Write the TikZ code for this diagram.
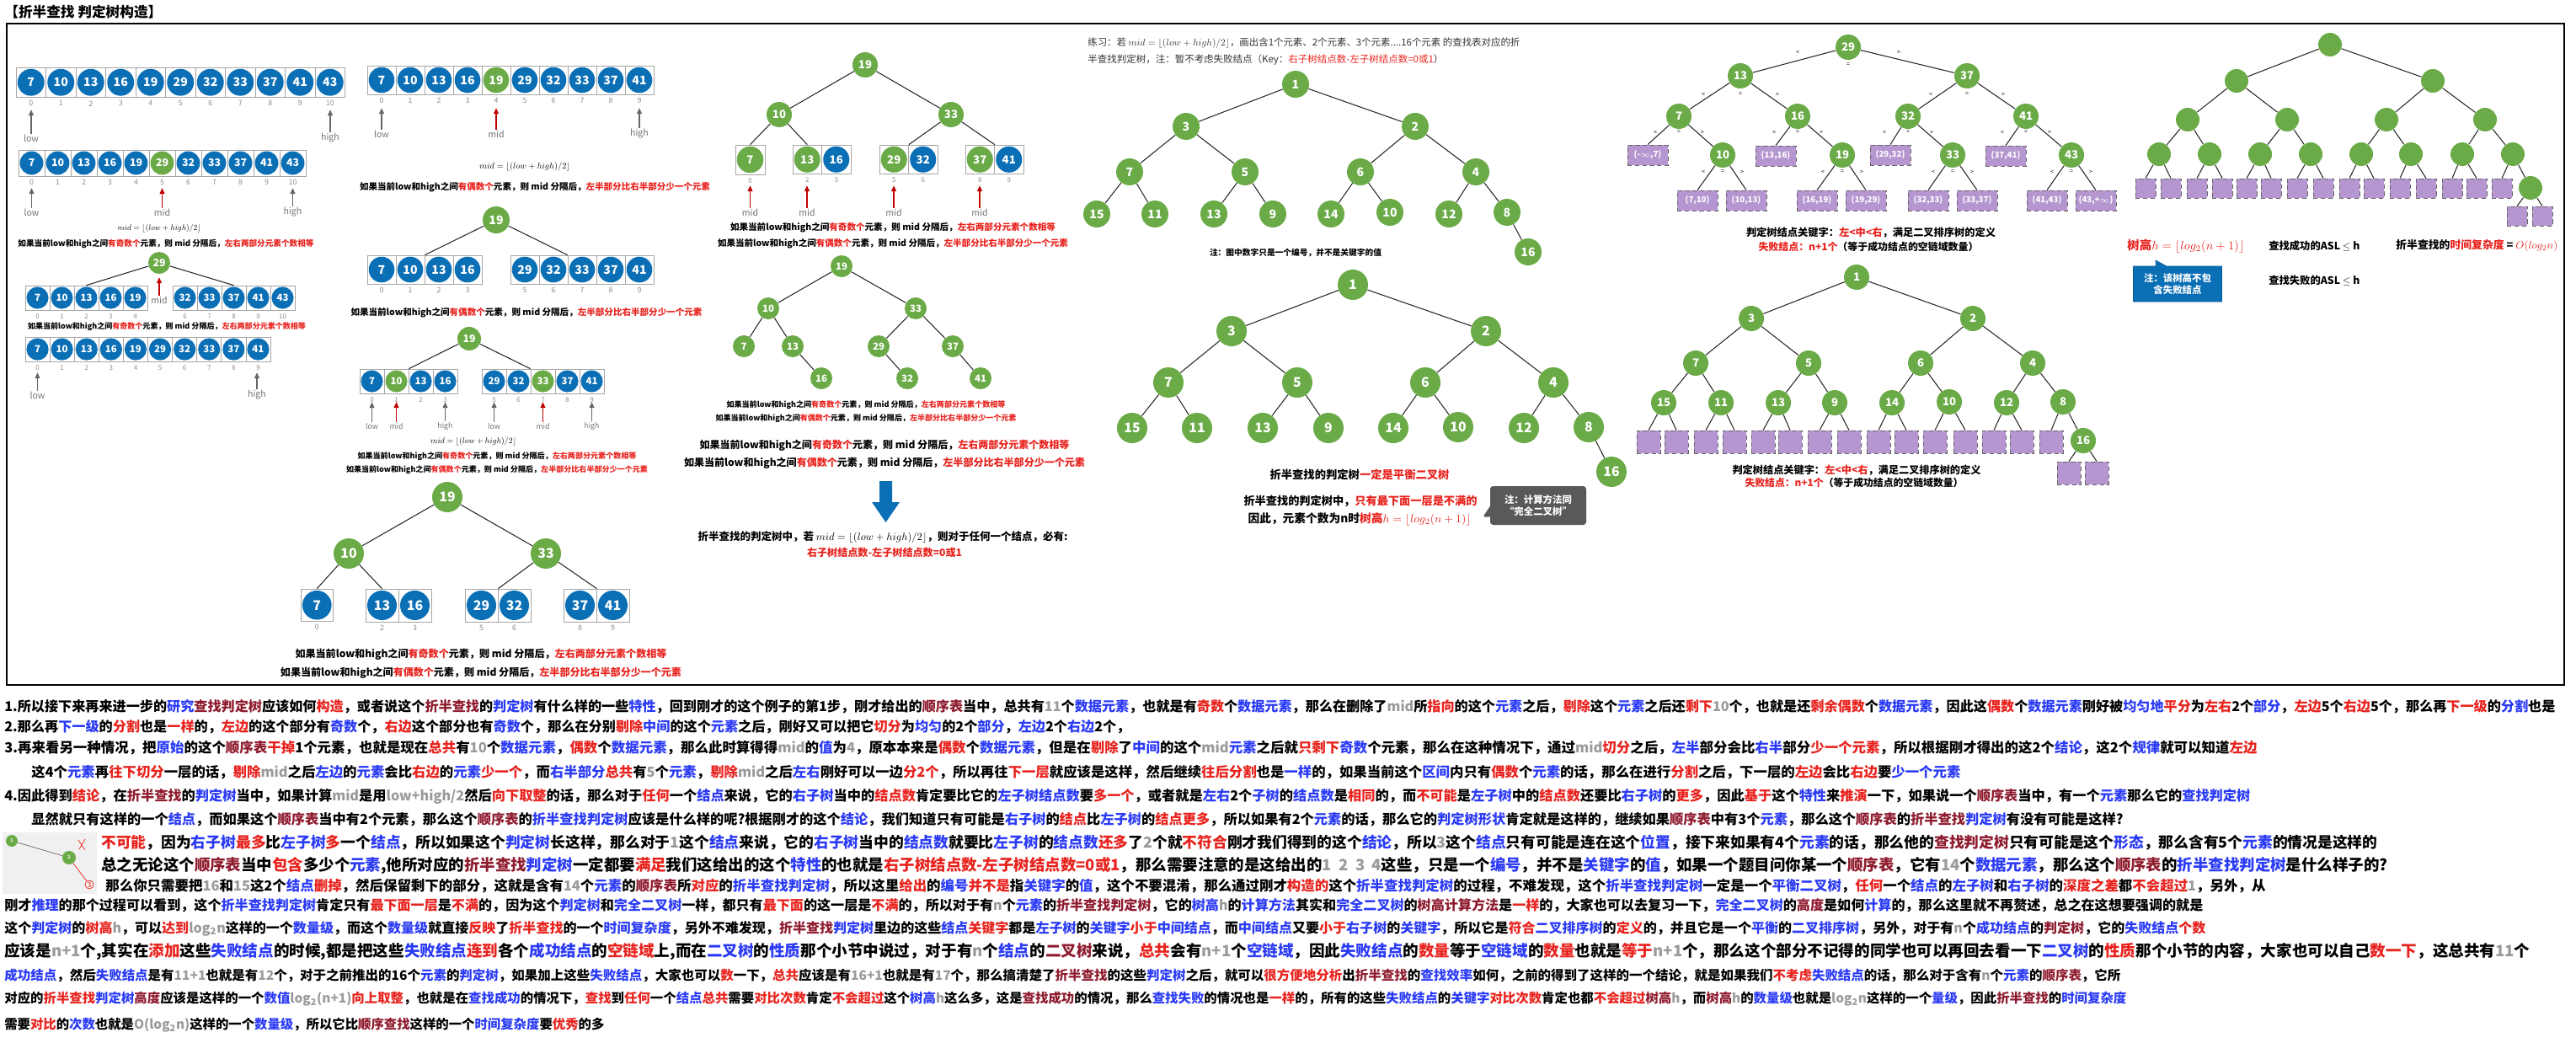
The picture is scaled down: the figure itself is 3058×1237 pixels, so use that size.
\documentclass[tikz,border=0pt]{standalone}
\usepackage{amsmath}
\usepackage{fontspec}
\setmainfont{Noto Sans CJK SC}
\usetikzlibrary{arrows.meta, positioning, calc, shapes.callouts}

\newlength\pxu
\setlength\pxu{0.2mm}
\definecolor{nblue}{HTML}{0B6FB6}
\definecolor{ngreen}{HTML}{6AAB47}
\definecolor{npurple}{HTML}{B596D0}
\definecolor{tred}{HTML}{E8231E}
\definecolor{tblue}{HTML}{2B3BF5}
\definecolor{tdark}{HTML}{8E1B2E}
\definecolor{tgray}{HTML}{9A9A9A}
\definecolor{mred}{HTML}{C00000}

\newcommand\hb[1]{\textcolor{tblue}{#1}}
\newcommand\hr[1]{\textcolor{tred}{#1}}
\newcommand\hd[1]{\textcolor{tdark}{#1}}
\newcommand\hg[1]{\textcolor{tgray}{#1}}
\newcommand\fitw[2]{\resizebox{#1\pxu}{!}{#2}}
\newcommand\midf{$mid=\lfloor(low+high)/2\rfloor$}
\newcommand\oddtxt{\bfseries 如果当前low和high之间\hr{有奇数个}元素，则 mid 分隔后，\hr{左右两部分元素个数相等}}
\newcommand\eventxt{\bfseries 如果当前low和high之间\hr{有偶数个}元素，则 mid 分隔后，\hr{左半部分比右半部分少一个元素}}

\tikzset{
  cell/.style={draw=black!35, fill=white, inner sep=0pt, line width=0.4pt},
  dot/.style={circle, inner sep=0pt, text=white, font=\bfseries\fontsize{7}{7}\selectfont},
  gn/.style={circle, fill=ngreen, text=white, inner sep=0pt, font=\bfseries\fontsize{7}{7}\selectfont},
  fail/.style={draw=black!60, densely dashed, fill=npurple, text=white, inner sep=0pt, font=\bfseries\fontsize{5.5}{6}\selectfont},
  idx/.style={text=black!45, inner sep=0pt, font=\fontsize{5}{5}\selectfont},
  plab/.style={text=black!55, inner sep=0.5pt, font=\fontsize{6}{6}\selectfont},
  ptr/.style={-{Triangle[length=4pt,width=3.2pt]}, line width=1.1pt, black!60},
  mptr/.style={ptr, mred},
  cmp/.style={inner sep=0pt, font=\fontsize{4}{4}\selectfont},
  edge/.style={line width=0.6pt, black!85},
  tline/.style={anchor=west, inner sep=0pt},
}

% prefix, left x, top y, cell size, list value/colour/index
\newcommand\cellrow[5]{%
  \foreach \val/\col/\ix [count=\k from 0] in {#5}{%
    \node[cell, minimum size=#4*\pxu] (#1\k) at ({#2+#4*(\k+.5)},{#3+#4/2}) {};
    \node[dot, fill=\col, minimum size=#4*0.9*\pxu] at (#1\k) {\val};
    \node[idx] at ($(#1\k.south)+(0,7)$) {\ix};
  }}
% style, name, x, tip y, label y, text
\newcommand\pointer[6]{%
  \node[plab] (#2) at (#3,#5) {#6};
  \coordinate (#2t) at (#3,#4);
  \draw[#1] (#2) -- (#2t);}
\newcommand\cmpl[3]{%
  \node[cmp] at ($(#1)+(-#2,#3)$) {<};
  \node[cmp] at ($(#1)+(0,#3)$) {=};
  \node[cmp] at ($(#1)+(#2,#3)$) {>};}
\newcommand\numedges[1]{%
  \foreach \a/\b in {1/3,1/2,3/7,3/5,2/6,2/4,7/15,7/11,5/13,5/9,6/14,6/10,4/12,4/8,8/16}
    \draw[edge] (#1\a) -- (#1\b);}

\begin{document}
\begin{tikzpicture}[x=0.2mm, y=-0.2mm]
\useasboundingbox (0,0) rectangle (3058,1237);

\node[tline] (title) at (5,14) {\fitw{187}{\bfseries 【折半查找 判定树构造】}};
\draw[line width=1.1pt] (8,28) rectangle (3044,813);

% ---- first split, odd count
\begin{scope}[dot/.append style={font=\bfseries\fontsize{8}{8}\selectfont}]
\cellrow{a}{19}{80}{35.5}{7/nblue/0,10/nblue/1,13/nblue/2,16/nblue/3,19/nblue/4,29/nblue/5,32/nblue/6,33/nblue/7,37/nblue/8,41/nblue/9,43/nblue/10}
\end{scope}
\pointer{ptr}{alo}{37}{130}{164}{low}
\pointer{ptr}{ahi}{392}{130}{164}{high}

\cellrow{b}{22}{178}{31}{7/nblue/0,10/nblue/1,13/nblue/2,16/nblue/3,19/nblue/4,29/ngreen/5,32/nblue/6,33/nblue/7,37/nblue/8,41/nblue/9,43/nblue/10}
\pointer{ptr}{blo}{37.5}{223}{252}{low}
\pointer{mptr}{bmid}{192.5}{223}{252}{mid}
\pointer{ptr}{bhi}{347.5}{223}{252}{high}
\node (fb) at (189,271) {\fitw{99}{\midf}};
\node (tb) at (197,289) {\fitw{351}{\oddtxt}};

\node[gn, minimum size=26*\pxu] (c29) at (189,312) {29};
\begin{scope}[dot/.append style={font=\bfseries\fontsize{6.5}{7}\selectfont}, idx/.append style={font=\fontsize{4.5}{5}\selectfont}]
\cellrow{cl}{30}{339}{29}{7/nblue/0,10/nblue/1,13/nblue/2,16/nblue/3,19/nblue/4}
\cellrow{cr}{205}{339}{29}{32/nblue/6,33/nblue/7,37/nblue/8,41/nblue/9,43/nblue/10}
\end{scope}
\draw[edge] (c29) -- (cl2.north);
\draw[edge] (c29) -- (cr2.north);
\pointer{mptr}{cmid}{189}{329}{356}{mid}
\node (tc) at (198,388) {\fitw{330}{\oddtxt}};

\begin{scope}[dot/.append style={font=\bfseries\fontsize{6.5}{7}\selectfont}, idx/.append style={font=\fontsize{4.5}{5}\selectfont}]
\cellrow{d}{30}{400}{29.1}{7/nblue/0,10/nblue/1,13/nblue/2,16/nblue/3,19/nblue/4,29/nblue/5,32/nblue/6,33/nblue/7,37/nblue/8,41/nblue/9}
\end{scope}
\pointer{ptr}{dlo}{44.5}{442}{469}{low}
\pointer{ptr}{dhi}{305}{442}{469}{high}

% ---- even count
\begin{scope}[dot/.append style={font=\bfseries\fontsize{8}{8}\selectfont}]
\cellrow{e}{436}{78}{34}{7/nblue/0,10/nblue/1,13/nblue/2,16/nblue/3,19/ngreen/4,29/nblue/5,32/nblue/6,33/nblue/7,37/nblue/8,41/nblue/9}
\end{scope}
\pointer{ptr}{elo}{453}{128}{159}{low}
\pointer{mptr}{emid}{589}{128}{159}{mid}
\pointer{ptr}{ehi}{759}{128}{159}{high}
\node (fe) at (623,198) {\fitw{108}{\midf}};
\node (te) at (635,222) {\fitw{416}{\eventxt}};

\node[gn, minimum size=32*\pxu, font=\bfseries\fontsize{8}{8}\selectfont] (f19) at (589,261) {19};
\begin{scope}[dot/.append style={font=\bfseries\fontsize{8}{8}\selectfont}]
\cellrow{fl}{436}{303}{34}{7/nblue/0,10/nblue/1,13/nblue/2,16/nblue/3}
\cellrow{fr}{606}{303}{34}{29/nblue/5,32/nblue/6,33/nblue/7,37/nblue/8,41/nblue/9}
\end{scope}
\draw[edge] (f19) -- (fl1.north east);
\draw[edge] (f19) -- (fr2.north west);
\node (tf) at (625,371) {\fitw{417}{\eventxt}};

\node[gn, minimum size=28*\pxu] (h19) at (557,402) {19};
\begin{scope}[dot/.append style={font=\bfseries\fontsize{6.5}{7}\selectfont}, idx/.append style={font=\fontsize{4.5}{5}\selectfont}, plab/.append style={font=\fontsize{5}{5}\selectfont}]
\cellrow{hl}{427}{438}{29}{7/nblue/0,10/ngreen/1,13/nblue/2,16/nblue/3}
\cellrow{hr}{572}{438}{29}{29/nblue/5,32/nblue/6,33/ngreen/7,37/nblue/8,41/nblue/9}
\pointer{ptr}{hlo}{441.5}{477}{506}{low}
\pointer{mptr}{hmid}{470.5}{477}{506}{mid}
\pointer{ptr}{hhi}{528.5}{477}{506}{high}
\pointer{ptr}{hlo2}{586.5}{477}{506}{low}
\pointer{mptr}{hmid2}{644.5}{477}{506}{mid}
\pointer{ptr}{hhi2}{702.5}{477}{506}{high}
\end{scope}
\draw[edge] (h19) -- (hl1.north east);
\draw[edge] (h19) -- (hr2.north west);
\node (fh) at (562,524) {\fitw{102}{\midf}};
\node (th1) at (590,542) {\fitw{331}{\oddtxt}};
\node (th2) at (590,558) {\fitw{358}{\eventxt}};

% ---- tree with leaf boxes
\begin{scope}[gn/.append style={minimum size=36*\pxu, font=\bfseries\fontsize{9}{9}\selectfont}]
\node[gn] (k19) at (531,590) {19};
\node[gn] (k10) at (414,657) {10};
\node[gn] (k33) at (648,657) {33};
\end{scope}
\begin{scope}[dot/.append style={font=\bfseries\fontsize{9}{9}\selectfont}]
\cellrow{ka}{357}{699}{38.5}{7/nblue/0}
\cellrow{kb}{434}{699}{39}{13/nblue/2,16/nblue/3}
\cellrow{kc}{552}{699}{39}{29/nblue/5,32/nblue/6}
\cellrow{kd}{669}{699}{39}{37/nblue/8,41/nblue/9}
\end{scope}
\foreach \a/\b in {k19/k10,k19/k33,k10/ka0.north,k10/kb0.north,k33/kc0.north east,k33/kd0.north east}
  \draw[edge] (\a) -- (\b);
\node (tk1) at (571,777) {\fitw{441}{\oddtxt}};
\node (tk2) at (571,799) {\fitw{476}{\eventxt}};

% ---- middle column
\begin{scope}[gn/.append style={minimum size=30*\pxu, font=\bfseries\fontsize{7.5}{8}\selectfont}]
\node[gn] (m19) at (1027,77) {19};
\node[gn] (m10) at (925,136) {10};
\node[gn] (m33) at (1129,136) {33};
\end{scope}
\begin{scope}[dot/.append style={font=\bfseries\fontsize{7.5}{8}\selectfont}, idx/.append style={font=\fontsize{4.5}{5}\selectfont}]
\cellrow{ma}{873}{172}{35}{7/ngreen/0}
\cellrow{mb}{941}{172}{34.5}{13/ngreen/2,16/nblue/3}
\cellrow{mc}{1044}{172}{34.5}{29/ngreen/5,32/nblue/6}
\cellrow{md}{1146}{172}{34.5}{37/ngreen/8,41/nblue/9}
\end{scope}
\foreach \a/\b in {m19/m10,m19/m33,m10/ma0.north,m10/mb0.north,m33/mc0.north east,m33/md0.north east}
  \draw[edge] (\a) -- (\b);
\pointer{mptr}{mm1}{890.5}{220}{252}{mid}
\pointer{mptr}{mm2}{958}{220}{252}{mid}
\pointer{mptr}{mm3}{1061}{220}{252}{mid}
\pointer{mptr}{mm4}{1163}{220}{252}{mid}
\node (tm1) at (1060,270) {\fitw{386}{\oddtxt}};
\node (tm2) at (1060,289) {\fitw{416}{\eventxt}};

\begin{scope}[gn/.append style={minimum size=26*\pxu, font=\bfseries\fontsize{6.5}{7}\selectfont}]
\foreach \t/\x/\y in {19/999/316,10/912/366,33/1087/366,7/883/411,13/941/411,29/1043/411,37/1131/411,16/975/449,32/1077/449,41/1164/449}
  \node[gn] (n\t) at (\x,\y) {\t};
\end{scope}
\foreach \a/\b in {19/10,19/33,10/7,10/13,13/16,33/29,33/37,29/32,37/41}
  \draw[edge] (n\a) -- (n\b);
\node (tn1) at (1028,481) {\fitw{331}{\oddtxt}};
\node (tn2) at (1028,497) {\fitw{357}{\eventxt}};
\node (tn3) at (1050,529) {\fitw{439}{\oddtxt}};
\node (tn4) at (1050,550) {\fitw{476}{\eventxt}};
\fill[nblue] (1044,571) -- (1059,571) -- (1059,596) -- (1068,596) -- (1051.5,620) -- (1035,596) -- (1044,596) -- cycle;
\node (tn5) at (1048,638) {\fitw{439}{\bfseries 折半查找的判定树中，若 \midf，则对于任何一个结点，必有:}};
\node (tn6) at (1050,656) {\fitw{184}{\bfseries\hr{右子树结点数-左子树结点数=0或1}}};

% ---- exercise trees
\node[tline] (ex1) at (1291,51) {\fitw{513}{\color{black!80}练习：若 \midf，画出含1个元素、2个元素、3个元素....16个元素 的查找表对应的折}};
\node[tline] (ex2) at (1291,71) {\fitw{422}{\color{black!80}半查找判定树，注：暂不考虑失败结点（Key：\hr{右子树结点数-左子树结点数=0或1}）}};

\begin{scope}[gn/.append style={minimum size=32*\pxu, font=\bfseries\fontsize{8}{8}\selectfont}]
\foreach \t/\x/\y in {1/1538/100,3/1408/150,2/1680/150,7/1341/204,5/1478/204,6/1615/204,4/1752/204,15/1302/254,11/1371/254,13/1441/254,9/1511/254,14/1580/254,10/1650/252,12/1720/254,8/1789/252,16/1814/299}
  \node[gn] (u\t) at (\x,\y) {\t};
\end{scope}
\numedges{u}
\node (nu) at (1538,300) {\fitw{204}{\bfseries 注：图中数字只是一个编号，并不是关键字的值}};

\begin{scope}[gn/.append style={minimum size=36*\pxu, font=\bfseries\fontsize{9}{9}\selectfont}]
\foreach \t/\x/\y in {1/1606/338,3/1462/393,2/1764/393,7/1387/454,5/1540/454,6/1692/454,4/1844/454,15/1344/508,11/1421/508,13/1499/508,9/1577/508,14/1654/508,10/1731/507,12/1809/508,8/1886/507,16/1913/560}
  \node[gn] (v\t) at (\x,\y) {\t};
\end{scope}
\numedges{v}
\node (tv1) at (1614,563) {\fitw{213}{\bfseries 折半查找的判定树\hr{一定是平衡二叉树}}};
\node (tv2) at (1615,595) {\fitw{277}{\bfseries 折半查找的判定树中，\hr{只有最下面一层是不满的}}};
\node (tv3) at (1614,616) {\fitw{265}{\bfseries 因此，元素个数为\textit{n}时\hr{树高$h=\lfloor log_2(n+1)\rfloor$}}};
\node[rectangle callout, callout absolute pointer={(1760,614)}, fill=black!65, rounded corners=2pt,
  minimum width=114*\pxu, minimum height=46*\pxu, inner sep=1pt, text=white, align=center,
  font=\bfseries\fontsize{6.5}{8}\selectfont] (cv) at (1826,600) {注：计算方法同\\“完全二叉树”};

% ---- tree with failure intervals
\begin{scope}[gn/.append style={minimum size=30*\pxu, font=\bfseries\fontsize{7.5}{8}\selectfont}]
\foreach \t/\x/\y in {29/2194/56,13/2066/90,37/2335/90,7/1993/138,16/2134/138,32/2265/138,41/2405/138,10/2045/184,19/2187/184,33/2318/184,43/2459/184}
  \node[gn] (e\t) at (\x,\y) {\t};
\end{scope}
\begin{scope}[fail/.append style={minimum width=48*\pxu, minimum height=24*\pxu}]
\node[fail] (fa) at (1956,184) {(-$\infty$,7)};
\node[fail] (fb) at (2108,185) {(13,16)};
\node[fail] (fc) at (2244,184) {(29,32)};
\node[fail] (fd) at (2381,185) {(37,41)};
\node[fail] (fe) at (2015,238) {(7,10)};
\node[fail] (ff) at (2073,238) {(10,13)};
\node[fail] (fg) at (2157,238) {(16,19)};
\node[fail] (fh) at (2215,238) {(19,29)};
\node[fail] (fi) at (2289,238) {(32,33)};
\node[fail] (fj) at (2347,238) {(33,37)};
\node[fail] (fk) at (2430,238) {(41,43)};
\node[fail] (fl) at (2488,238) {(43,+$\infty$)};
\end{scope}
\foreach \a/\b in {29/13,29/37,13/7,13/16,37/32,37/41,7/10,16/19,32/33,41/43}
  \draw[edge] (e\a) -- (e\b);
\foreach \a/\b in {7/fa,16/fb,32/fc,41/fd,10/fe,10/ff,19/fg,19/fh,33/fi,33/fj,43/fk,43/fl}
  \draw[edge] (e\a) -- (\b.north);
\node[cmp] at (2134,62) {<};
\node[cmp] at (2194,77) {=};
\node[cmp] at (2254,62) {>};
\cmpl{e13}{44}{22}
\cmpl{e37}{43}{22}
\foreach \t in {7,16,32,41} {\cmpl{e\t}{28}{19}}
\foreach \t in {10,19,33,43} {\cmpl{e\t}{23}{20}}
\node (te1) at (2221,276) {\fitw{296}{\bfseries 判定树结点关键字：\hr{左<中<右}，满足二叉排序树的定义}};
\node (te2) at (2218,293) {\fitw{261}{\bfseries\hr{失败结点：n+1个}（等于成功结点的空链域数量）}};

\begin{scope}[gn/.append style={minimum size=30*\pxu, font=\bfseries\fontsize{7.5}{8}\selectfont}]
\foreach \t/\x/\y in {1/2204/329,3/2079/378,2/2342/378,7/2013/431,5/2147/431,6/2280/431,4/2413/431,15/1975/478,11/2043/478,13/2111/478,9/2178/478,14/2246/478,10/2314/477,12/2382/478,8/2449/477,16/2473/523}
  \node[gn] (w\t) at (\x,\y) {\t};
\end{scope}
\numedges{w}
\foreach \x [count=\k] in {1957,1990,2025,2059,2093,2125,2160,2195,2230,2263,2297,2333,2367,2400,2435}
  \node[fail, minimum width=28*\pxu, minimum height=27*\pxu] (ws\k) at (\x,524.5) {};
\node[fail, minimum width=28*\pxu, minimum height=27*\pxu] (ws16) at (2456,561.5) {};
\node[fail, minimum width=28*\pxu, minimum height=27*\pxu] (ws17) at (2489,561.5) {};
\foreach \p/\s in {15/1,15/2,11/3,11/4,13/5,13/6,9/7,9/8,14/9,14/10,10/11,10/12,12/13,12/14,8/15,16/16,16/17}
  \draw[edge] (w\p) -- (ws\s.north);
\node (tw1) at (2204,558) {\fitw{295}{\bfseries 判定树结点关键字：\hr{左<中<右}，满足二叉排序树的定义}};
\node (tw2) at (2201,573) {\fitw{259}{\bfseries\hr{失败结点：n+1个}（等于成功结点的空链域数量）}};

% ---- unlabelled tree, height and ASL
\begin{scope}[gn/.append style={minimum size=28*\pxu}]
\foreach \t/\x/\y in {a/2766/53,b/2655/96,c/2888/96,d/2597/142,e/2715/142,f/2833/142,g/2950/142,h/2563/183,i/2623/183,j/2683/183,k/2743/183,l/2803/183,m/2862/183,n/2923/183,o/2983/183,p/3004/223}
  \node[gn] (z\t) at (\x,\y) {};
\end{scope}
\foreach \a/\b in {a/b,a/c,b/d,b/e,c/f,c/g,d/h,d/i,e/j,e/k,f/l,f/m,g/n,g/o,o/p}
  \draw[edge] (z\a) -- (z\b);
\foreach \x [count=\k] in {2547,2577,2608,2638,2667,2696,2727,2758,2789,2818,2849,2880,2911,2940,2970}
  \node[fail, minimum width=24*\pxu, minimum height=23*\pxu] (zs\k) at (\x,223.5) {};
\node[fail, minimum width=24*\pxu, minimum height=23*\pxu] (zs16) at (2988,256.5) {};
\node[fail, minimum width=24*\pxu, minimum height=23*\pxu] (zs17) at (3018,256.5) {};
\foreach \p/\s in {h/1,h/2,i/3,i/4,j/5,j/6,k/7,k/8,l/9,l/10,m/11,m/12,n/13,n/14,o/15,p/16,p/17}
  \draw[edge] (z\p) -- (zs\s.north);
\node[tline] (zh) at (2525,292) {\fitw{139}{\bfseries\hr{树高$h=\lfloor log_2(n+1)\rfloor$}}};
\node[tline] (za1) at (2693,292) {\fitw{108}{\bfseries 查找成功的ASL $\le$ h}};
\node[tline] (zo) at (2844,292) {\fitw{192}{\bfseries 折半查找的\hr{时间复杂度} = \hr{$O(log_2n)$}}};
\node[tline] (za2) at (2693,333) {\fitw{108}{\bfseries 查找失败的ASL $\le$ h}};
\node[rectangle callout, callout absolute pointer={(2559,309)}, fill=nblue, draw=nblue!80!black,
  minimum width=105*\pxu, minimum height=42*\pxu, inner sep=1pt, text=white, align=center,
  font=\bfseries\fontsize{6.5}{8}\selectfont] (cz) at (2585,337) {注：该树高不包\\含失败结点};

% ---- small sketch beside the notes
\fill[black!6] (3,988) rectangle (115,1061);
\node[gn, minimum size=14*\pxu, font=\bfseries\fontsize{3}{3}\selectfont] (q1) at (14,998) {1};
\node[gn, minimum size=16*\pxu, font=\bfseries\fontsize{3}{3}\selectfont] (q2) at (82,1018) {2};
\node[circle, draw=tred, text=tred, inner sep=0.4pt, font=\itshape\fontsize{5}{5}\selectfont] (q3) at (106,1050) {3};
\draw[black!60, line width=0.4pt] (q1) -- (q2);
\draw[tred, line width=0.4pt] (q2) -- (q3);
\draw[tred, line width=0.4pt] (93,997) -- (101,1009) (101,996) -- (94,1008);

% ---- notes
\node[tline] (p1) at (5,839) {\fitw{3028}{\bfseries 1.所以接下来再来进一步的\hb{研究}\hd{查找判定树}应该如何\hr{构造}，或者说这个\hd{折半查找}的\hb{判定树}有什么样的一些\hb{特性}，回到刚才的这个例子的第1步，刚才给出的\hd{顺序表}当中，总共有\hg{11}个\hb{数据元素}，也就是有\hr{奇数}个\hb{数据元素}，那么在删除了\hg{mid}所\hr{指向}的这个\hb{元素}之后，\hr{剔除}这个\hb{元素}之后还\hr{剩下}\hg{10}个，也就是还\hr{剩余}\hr{偶数}个\hb{数据元素}，因此这\hr{偶数}个\hb{数据元素}刚好被\hb{均匀地}\hr{平分}为\hr{左右}2个\hb{部分}，\hr{左边}5个\hr{右边}5个，那么再\hr{下一级}的\hb{分割}也是}};
\node[tline] (p2) at (5,863) {\fitw{1336}{\bfseries 2.那么再\hb{下一级}的\hr{分割}也是\hr{一样}的，\hr{左边}的这个部分有\hb{奇数}个，\hr{右边}这个部分也有\hb{奇数}个，那么在分别\hr{剔除}\hb{中间}的这个\hb{元素}之后，刚好又可以把它\hr{切分}为\hb{均匀}的2个\hb{部分}，\hb{左边}2个\hb{右边}2个，}};
\node[tline] (p3) at (5,888) {\fitw{2674}{\bfseries 3.再来看另一种情况，把\hb{原始}的这个\hd{顺序表}\hr{干掉}1个元素，也就是现在\hr{总共}有\hg{10}个\hb{数据元素}，\hr{偶数}个\hb{数据元素}，那么此时算得得\hg{mid}的\hb{值}为\hg{4}，原本本来是\hr{偶数}个\hb{数据元素}，但是在\hr{剔除}了\hb{中间}的这个\hg{mid}\hb{元素}之后就\hr{只剩下}\hb{奇数}个元素，那么在这种情况下，通过\hg{mid}\hr{切分}之后，\hb{左半}部分会比\hb{右半}部分\hr{少一个元素}，所以根据刚才得出的这2个\hb{结论}，这2个\hb{规律}就可以知道\hr{左边}}};
\node[tline] (p3b) at (37,917) {\fitw{2290}{\bfseries 这4个\hb{元素}再\hr{往下切分}一层的话，\hr{剔除}\hg{mid}之后\hb{左边}的\hb{元素}会比\hr{右边}的\hb{元素}\hr{少一个}，而\hb{右半部分}\hr{总共}有\hg{5}个\hb{元素}，\hr{剔除}\hg{mid}之后\hb{左右}刚好可以一边\hr{分2个}，所以再往\hr{下一层}就应该是这样，然后继续\hr{往后分割}也是\hb{一样}的，如果当前这个\hb{区间}内只有\hr{偶数}个\hb{元素}的话，那么在进行\hr{分割}之后，下一层的\hr{左边}会比\hr{右边}要\hb{少一个元素}}};
\node[tline] (p4) at (5,945) {\fitw{2666}{\bfseries 4.因此得到\hr{结论}，在\hd{折半查找}的\hb{判定树}当中，如果计算\hg{mid}是用\hg{low+high/2}然后\hr{向下取整}的话，那么对于\hr{任何}一个\hb{结点}来说，它的\hb{右子树}当中的\hr{结点数}肯定要比它的\hb{左子树结点数}要\hr{多一个}，或者就是\hb{左右}2个\hb{子树}的\hb{结点数}是\hr{相同}的，而\hr{不可能}是\hb{左子树}中的\hr{结点数}还要比\hb{右子树}的\hr{更多}，因此\hr{基于}这个\hb{特性}来\hr{推演}一下，如果说一个\hd{顺序表}当中，有一个\hb{元素}那么它的\hb{查找判定树}}};
\node[tline] (p4b) at (37,973) {\fitw{2483}{\bfseries 显然就只有这样的一个\hb{结点}，而如果这个\hd{顺序表}当中有2个元素，那么这个\hd{顺序表}的\hb{折半查找判定树}应该是什么样的呢?根据刚才的这个\hb{结论}，我们知道只有可能是\hb{右子树}的\hr{结点}比\hb{左子树}的\hr{结点更多}，所以如果有2个\hb{元素}的话，那么它的\hb{判定树形状}肯定就是这样的，继续如果\hd{顺序表}中有3个\hb{元素}，那么这个\hd{顺序表}的\hd{折半查找}\hb{判定树}有没有可能是这样?}};
\node[tline] (p5) at (120,1000) {\fitw{2702}{\bfseries\hr{不可能}，因为\hb{右子树}\hr{最多}比\hb{左子树}\hr{多}一个\hb{结点}，所以如果这个\hb{判定树}长这样，那么对于\hg{1}这个\hb{结点}来说，它的\hb{右子树}当中的\hb{结点数}就要比\hb{左子树}的\hb{结点数}\hr{还多}了\hg{2}个就\hr{不符合}刚才我们得到的这个\hb{结论}，所以\hg{3}这个\hb{结点}只有可能是连在这个\hb{位置}，接下来如果有4个\hb{元素}的话，那么他的\hd{查找判定树}只有可能是这个\hb{形态}，那么含有5个\hb{元素}的情况是这样的}};
\node[tline] (p6) at (120,1028) {\fitw{2714}{\bfseries 总之无论这个\hd{顺序表}当中\hr{包含}多少个\hb{元素},他所对应的\hd{折半查找}\hb{判定树}一定都要\hr{满足}我们这给出的这个\hb{特性}的也就是\hr{右子树结点数-左子树结点数=0或1}，那么需要注意的是这给出的\hg{1\ \ 2\ \ 3\ \ 4}这些，只是一个\hb{编号}，并不是\hb{关键字}的\hb{值}，如果一个题目问你某一个\hd{顺序表}，它有\hg{14}个\hb{数据元素}，那么这个\hd{顺序表}的\hb{折半查找判定树}是什么样子的?}};
\node[tline] (p7) at (125,1052) {\fitw{2564}{\bfseries 那么你只需要把\hg{16}和\hg{15}这2个\hb{结点}\hr{删掉}，然后保留剩下的部分，这就是含有\hg{14}个\hb{元素}的\hd{顺序表}所\hr{对应}的\hb{折半查找判定树}，所以这里\hr{给出}的\hb{编号}\hr{并不是}指\hb{关键字}的\hb{值}，这个不要混淆，那么通过刚才\hr{构造的}这个\hb{折半查找判定树}的过程，不难发现，这个\hb{折半查找判定树}一定是一个\hb{平衡二叉树}，\hr{任何}一个\hb{结点}的\hb{左子树}和\hb{右子树}的\hr{深度之差}都\hr{不会超过}\hg{1}，另外，从}};
\node[tline] (p8) at (5,1075) {\fitw{2610}{\bfseries 刚才\hb{推理}的那个过程可以看到，这个\hb{折半查找判定树}肯定只有\hr{最下面一层}是\hr{不满}的，因为这个\hb{判定树}和\hb{完全二叉树}一样，都只有\hr{最下面}的这一层是\hr{不满}的，所以对于有\hg{n}个\hb{元素}的\hd{折半查找判定树}，它的\hb{树高}\hg{h}的\hb{计算方法}其实和\hb{完全二叉树}的\hd{树高计算方法}是\hr{一样}的，大家也可以去复习一下，\hb{完全二叉树}的\hd{高度}是如何\hb{计算}的，那么这里就不再赘述，总之在这想要强调的就是}};
\node[tline] (p9) at (5,1102) {\fitw{2613}{\bfseries 这个\hb{判定树}的\hr{树高}\hg{h}，可以\hr{达到}\hg{log\textsubscript{2}n}这样的一个\hb{数量级}，而这个\hb{数量级}就直接\hr{反映}了\hr{折半查找}的一个\hb{时间复杂度}，另外不难发现，\hd{折半查找}\hb{判定树}里边的这些\hb{结点}\hr{关键字}都是\hb{左子树}的\hb{关键字}\hr{小于}\hb{中间结点}，而\hb{中间结点}又要\hr{小于}\hb{右子树}的\hb{关键字}，所以它是\hr{符合}\hb{二叉排序树}的\hr{定义}的，并且它是一个\hb{平衡}的\hb{二叉排序树}，另外，对于有\hg{n}个\hb{成功结点}的\hd{判定树}，它的\hb{失败结点}\hr{个数}}};
\node[tline] (p10) at (5,1130) {\fitw{2998}{\bfseries 应该是\hg{n+1}个,其实在\hr{添加}这些\hb{失败结点}的时候,都是把这些\hb{失败结点}\hr{连到}各个\hb{成功结点}的\hr{空链域}上,而在\hb{二叉树}的\hb{性质}那个小节中说过，对于有\hg{n}个\hb{结点}的\hd{二叉树}来说，\hr{总共}会有\hg{n+1}个\hb{空链域}，因此\hb{失败结点}的\hr{数量}等于\hb{空链域}的\hr{数量}也就是\hr{等于}\hg{n+1}个，那么这个部分不记得的同学也可以再回去看一下\hb{二叉树}的\hr{性质}那个小节的内容，大家也可以自己\hr{数一下}，这总共有\hg{11}个}};
\node[tline] (p11) at (5,1158) {\fitw{2512}{\bfseries\hb{成功结点}，然后\hb{失败结点}是有\hg{11+1}也就是有\hg{12}个，对于之前推出的16个\hb{元素}的\hb{判定树}，如果加上这些\hb{失败结点}，大家也可以\hr{数}一下，\hr{总共}应该是有\hg{16+1}也就是有\hg{17}个，那么搞清楚了\hd{折半查找}的这些\hb{判定树}之后，就可以\hr{很方便地分析}出\hd{折半查找}的\hb{查找效率}如何，之前的得到了这样的一个结论，就是如果我们\hr{不考虑}\hb{失败结点}的话，那么对于含有\hg{n}个\hb{元素}的\hd{顺序表}，它所}};
\node[tline] (p12) at (5,1186) {\fitw{2519}{\bfseries 对应的\hr{折半查找}\hb{判定树}\hd{高度}应该是这样的一个\hb{数值}\hg{log\textsubscript{2}(n+1)}\hr{向上取整}，也就是在\hb{查找成功}的情况下，\hr{查找}到\hr{任何}一个\hb{结点}\hr{总共}需要\hr{对比次数}肯定\hr{不会超过}这个\hb{树高}\hg{h}这么多，这是\hd{查找成功}的情况，那么\hb{查找失败}的情况也是\hr{一样}的，所有的这些\hb{失败结点}的\hb{关键字}\hr{对比次数}肯定也都\hr{不会超过}\hd{树高}\hg{h}，而\hd{树高}\hg{h}的\hb{数量级}也就是\hg{log\textsubscript{2}n}这样的一个\hb{量级}，因此\hd{折半查找}的\hb{时间复杂度}}};
\node[tline] (p13) at (5,1217) {\fitw{712}{\bfseries 需要\hr{对比}的\hb{次数}也就是\hg{O(log\textsubscript{2}n)}这样的一个\hb{数量级}，所以它比\hd{顺序查找}这样的一个\hb{时间复杂度}要\hr{优秀}的多}};
\end{tikzpicture}
\end{document}
